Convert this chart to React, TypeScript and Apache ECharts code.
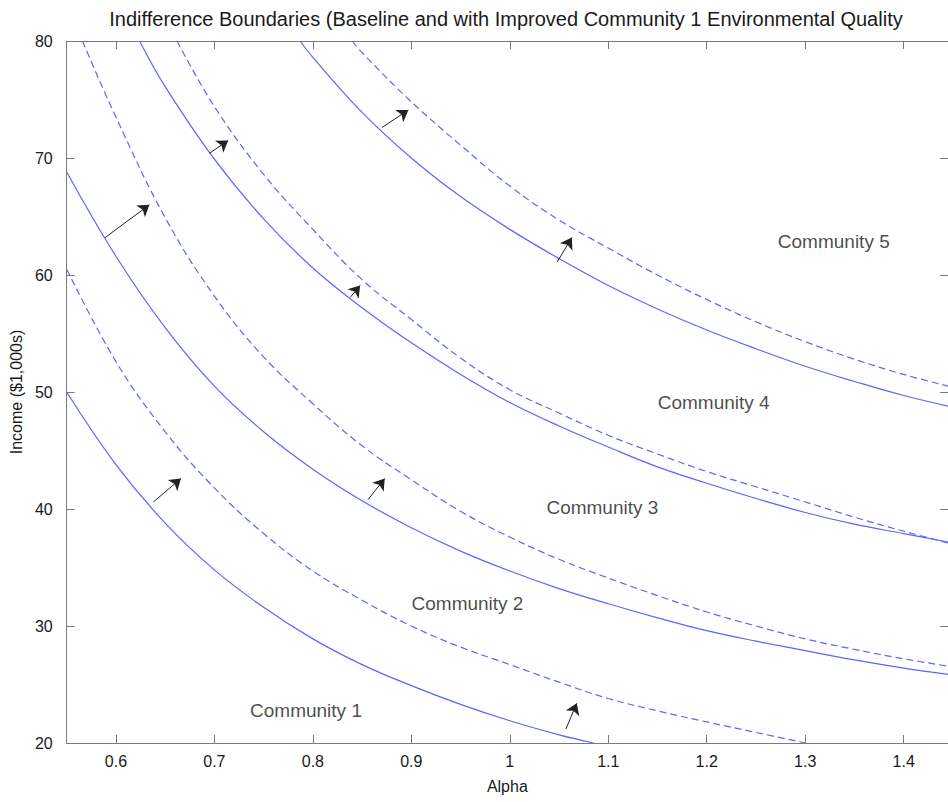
import React, { useEffect, useRef } from "react";
import * as echarts from "echarts";

// ---- Data ----
const titleText =
  "Indifference Boundaries (Baseline and with Improved Community 1 Environmental Quality";
const xAxisName = "Alpha";
const yAxisName = "Income ($1,000s)";

// Boundary 1|2
const s1X = [0.55, 0.6, 0.65, 0.7, 0.75, 0.8, 0.85, 0.9, 0.95, 1.0, 1.05, 1.085];
const s1Y = [50, 43.8, 38.8, 34.8, 31.6, 28.9, 26.7, 24.9, 23.3, 21.9, 20.7, 20];
const d1X = [0.55, 0.6, 0.65, 0.7, 0.75, 0.8, 0.85, 0.9, 0.95, 1.0, 1.05, 1.1, 1.15, 1.2, 1.25, 1.3];
const d1Y = [60.5, 52.6, 46.6, 41.8, 37.9, 34.7, 32.2, 30.0, 28.2, 26.7, 25.2, 23.8, 22.75, 21.8, 20.9, 20.0];

// Boundary 2|3
const s2X = [0.55, 0.6, 0.65, 0.7, 0.75, 0.8, 0.85, 0.9, 0.95, 1.0, 1.05, 1.1, 1.15, 1.2, 1.25, 1.3, 1.35, 1.4, 1.45];
const s2Y = [68.8, 61.6, 55.5, 50.5, 46.6, 43.4, 40.7, 38.4, 36.4, 34.7, 33.2, 31.9, 30.7, 29.6, 28.7, 27.9, 27.1, 26.4, 25.8];
const d2X = [0.566, 0.6, 0.65, 0.7, 0.75, 0.8, 0.85, 0.9, 0.95, 1.0, 1.05, 1.1, 1.15, 1.2, 1.25, 1.3, 1.35, 1.4, 1.45];
const d2Y = [80, 73.5, 64.9, 58.2, 53.0, 49.0, 45.4, 42.5, 39.8, 37.6, 35.7, 34.1, 32.6, 31.2, 30.0, 28.9, 28.0, 27.2, 26.5];

// Boundary 3|4
const s3X = [0.624, 0.65, 0.7, 0.75, 0.8, 0.85, 0.9, 0.95, 1.0, 1.05, 1.1, 1.15, 1.2, 1.25, 1.3, 1.35, 1.4, 1.45];
const s3Y = [80, 76.1, 69.9, 64.8, 60.6, 57.2, 54.2, 51.5, 49.1, 47.1, 45.3, 43.6, 42.2, 40.9, 39.7, 38.7, 37.9, 37.1];
const d3X = [0.662, 0.7, 0.75, 0.8, 0.85, 0.9, 0.95, 1.0, 1.05, 1.1, 1.15, 1.2, 1.25, 1.3, 1.35, 1.4, 1.45];
const d3Y = [80, 74.4, 68.6, 63.9, 59.6, 56.2, 52.9, 50.2, 48.2, 46.3, 44.7, 43.2, 41.9, 40.6, 39.3, 38.1, 37.0];

// Boundary 4|5
const s4X = [0.787, 0.8, 0.85, 0.9, 0.95, 1.0, 1.05, 1.1, 1.15, 1.2, 1.25, 1.3, 1.35, 1.4, 1.45];
const s4Y = [80, 78.6, 73.9, 70.0, 66.7, 63.9, 61.4, 59.1, 57.1, 55.3, 53.7, 52.2, 50.9, 49.7, 48.7];
const d4X = [0.84, 0.85, 0.9, 0.95, 1.0, 1.05, 1.1, 1.15, 1.2, 1.25, 1.3, 1.35, 1.4, 1.45];
const d4Y = [80, 79.0, 74.8, 71.1, 67.6, 64.7, 62.3, 60.0, 57.9, 56.0, 54.3, 52.8, 51.5, 50.4];

// Arrows (from baseline boundary toward improved boundary)
const arrowTails = [
  [0.589, 63.2], [0.695, 70.4], [0.87, 72.6], [1.048, 61.1],
  [0.838, 58.1], [0.856, 40.8], [0.638, 40.6], [1.057, 21.2],
];
const arrowTips = [
  [0.634, 66.0], [0.714, 71.5], [0.897, 74.1], [1.063, 63.2],
  [0.848, 59.1], [0.873, 42.6], [0.666, 42.6], [1.068, 23.4],
];

// Community labels
const communityNames = ["Community 1", "Community 2", "Community 3", "Community 4", "Community 5"];
const communityX = [0.793, 0.957, 1.094, 1.207, 1.329];
const communityY = [22.8, 31.9, 40.1, 49.1, 62.9];

const curves = [
  { name: "Baseline 1", x: s1X, y: s1Y, dashed: false },
  { name: "Improved 1", x: d1X, y: d1Y, dashed: true },
  { name: "Baseline 2", x: s2X, y: s2Y, dashed: false },
  { name: "Improved 2", x: d2X, y: d2Y, dashed: true },
  { name: "Baseline 3", x: s3X, y: s3Y, dashed: false },
  { name: "Improved 3", x: d3X, y: d3Y, dashed: true },
  { name: "Baseline 4", x: s4X, y: s4Y, dashed: false },
  { name: "Improved 4", x: d4X, y: d4Y, dashed: true },
];

const FONT = '"Liberation Sans", Arial, Helvetica, sans-serif';
const AXIS_COLOR = "#7a7a7a";
const TEXT_COLOR = "#1a1a1a";
const LINE_COLOR = "#6262ff";

const X_MIN = 0.55;
const X_MAX = 1.445;

export default function App() {
  const ref = useRef<HTMLDivElement>(null);

  useEffect(() => {
    if (!ref.current) return;
    const chart = echarts.init(ref.current, null, { renderer: "svg" });

    const commonX = {
      type: "value" as const,
      min: X_MIN,
      max: X_MAX,
      splitNumber: 9,
      splitLine: { show: false },
      axisLine: { show: true, onZero: false, lineStyle: { color: AXIS_COLOR, width: 1 } },
      axisTick: { show: true, inside: true, length: 8, lineStyle: { color: AXIS_COLOR } },
    };
    const commonY = {
      type: "value" as const,
      min: 20,
      max: 80,
      interval: 10,
      splitLine: { show: false },
      axisLine: { show: true, onZero: false, lineStyle: { color: AXIS_COLOR, width: 1 } },
      axisTick: { show: true, inside: true, length: 8, lineStyle: { color: AXIS_COLOR } },
    };

    const lineSeries = curves.map((c) => ({
      type: "line" as const,
      name: c.name,
      data: c.x.map((xv, i) => [xv, c.y[i]]),
      showSymbol: false,
      symbol: "none",
      smooth: 0.4,
      clip: true,
      silent: true,
      lineStyle: {
        color: LINE_COLOR,
        width: 1.2,
        type: c.dashed ? [7, 4] : "solid",
      },
      z: 2,
    }));

    chart.setOption({
      animation: false,
      backgroundColor: "#ffffff",
      grid: { left: 64, right: -5, top: 41, bottom: 59, containLabel: false },
      xAxis: [
        {
          ...commonX,
          position: "bottom",
          name: xAxisName,
          nameLocation: "middle",
          nameGap: 35,
          nameTextStyle: { color: TEXT_COLOR, fontSize: 16, fontFamily: FONT },
          axisLabel: {
            show: true,
            showMinLabel: false,
            showMaxLabel: false,
            color: TEXT_COLOR,
            fontSize: 16,
            fontFamily: FONT,
            margin: 10,
          },
        },
        {
          ...commonX,
          position: "top",
          axisLabel: { show: false },
        },
      ],
      yAxis: [
        {
          ...commonY,
          position: "left",
          name: yAxisName,
          nameLocation: "middle",
          nameGap: 38,
          nameRotate: 90,
          nameTextStyle: { color: TEXT_COLOR, fontSize: 16, fontFamily: FONT },
          axisLabel: { color: TEXT_COLOR, fontSize: 16, fontFamily: FONT, margin: 14 },
        },
        {
          ...commonY,
          position: "right",
          axisLabel: { show: false },
        },
      ],
      graphic: [
        {
          type: "text",
          x: 506,
          y: 19,
          silent: true,
          style: {
            text: titleText,
            fill: TEXT_COLOR,
            fontSize: 20,
            fontFamily: FONT,
            align: "center",
            verticalAlign: "middle",
          },
        },
      ],
      series: [
        ...lineSeries,
        {
          type: "lines",
          coordinateSystem: "cartesian2d",
          silent: true,
          z: 5,
          symbol: ["none", "arrow"],
          symbolSize: 11,
          lineStyle: { color: "#222222", width: 1, opacity: 1, curveness: 0 },
          data: arrowTails.map((t, i) => ({ coords: [t, arrowTips[i]] })),
        },
        {
          type: "scatter",
          silent: true,
          symbolSize: 1,
          itemStyle: { color: "rgba(0,0,0,0)" },
          z: 6,
          label: {
            show: true,
            position: "inside",
            formatter: "{b}",
            color: TEXT_COLOR,
            fontSize: 19,
            fontFamily: FONT,
          },
          data: communityNames.map((n, i) => ({ name: n, value: [communityX[i], communityY[i]] })),
        },
      ],
    });

    return () => chart.dispose();
  }, []);

  return (
    <div
      ref={ref}
      style={{ position: "absolute", left: 0, top: 0, width: 948, height: 802, background: "#fff" }}
    />
  );
}
